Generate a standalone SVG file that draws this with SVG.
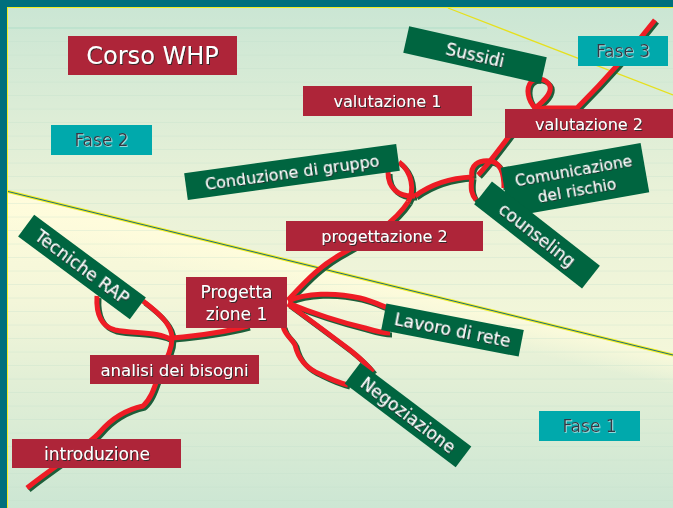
<svg xmlns="http://www.w3.org/2000/svg" width="673" height="508" viewBox="0 0 673 508">
<defs>
<linearGradient id="gTop" gradientUnits="userSpaceOnUse" x1="0" y1="8" x2="0" y2="355">
<stop offset="0" stop-color="#CBE6D4"/><stop offset="0.55" stop-color="#EAF2D8"/><stop offset="1" stop-color="#F4F7DA"/>
</linearGradient>
<linearGradient id="gBot" gradientUnits="userSpaceOnUse" x1="0" y1="190" x2="0" y2="508">
<stop offset="0" stop-color="#FFFCDC"/><stop offset="0.35" stop-color="#F3F6D9"/><stop offset="0.6" stop-color="#E2EFD6"/><stop offset="1" stop-color="#CCE6D3"/>
</linearGradient>
<linearGradient id="gBand" gradientUnits="userSpaceOnUse" x1="340" y1="273" x2="332" y2="308">
<stop offset="0" stop-color="#FFFCDC" stop-opacity="0.9"/><stop offset="1" stop-color="#FFFCDC" stop-opacity="0"/>
</linearGradient>
<filter id="sh" x="-10%" y="-10%" width="120%" height="130%">
<feDropShadow dx="1" dy="1" stdDeviation="0.3" flood-color="#2a2a2a" flood-opacity="0.9"/>
</filter>
<filter id="shL" x="-10%" y="-10%" width="120%" height="130%">
<feDropShadow dx="0.8" dy="0.8" stdDeviation="0.1" flood-color="#ffffff" flood-opacity="0.7"/>
</filter>
<style>
.red{fill:#AE2539}
.grn{fill:#006540}
.tea{fill:#00A9AC}
.t{font-family:"Comic Sans MS","DejaVu Sans",sans-serif;fill:#ffffff;text-anchor:middle;filter:url(#sh)}
.tf{font-family:"Comic Sans MS","DejaVu Sans",sans-serif;fill:#353844;text-anchor:middle;font-size:17px;filter:url(#shL)}
.c{fill:none;stroke-width:5;stroke-linejoin:round;stroke-linecap:butt}
.cr{stroke:#EE1C25}
.cs{stroke:#1D5E3A}
</style>
</defs>

<g id="background">
<rect x="0" y="0" width="673" height="508" fill="url(#gTop)"/>
<polygon points="6,191 673,355 673,508 0,508 0,191" fill="url(#gBot)"/>
<polygon points="6,191 673,355 673,400 6,230" fill="url(#gBand)"/>
<path d="M7 28H487" stroke="#A8DBC6" stroke-width="1" opacity="0.8"/>
<path d="M7 41.5H673M7 55H673M7 68.5H673M7 82H673M7 95.5H673M7 109H673M7 122.5H673M7 136H673M7 149.5H673M7 163H673M7 176.5H673M7 190H673M7 203.5H673M7 217H673M7 230.5H673M7 244H673M7 257.5H673M7 271H673M7 284.5H673M7 298H673M7 311.5H673M7 325H673M7 338.5H673M7 352H673M7 365.5H673M7 379H673M7 392.5H673M7 406H673M7 419.5H673M7 433H673M7 446.5H673M7 460H673M7 473.5H673M7 487H673M7 500.5H673" stroke="#C2E0CC" stroke-width="1" opacity="0.3"/>
<line x1="448" y1="8" x2="673" y2="95" stroke="#E6E01E" stroke-width="1.3"/>
<line x1="6" y1="191" x2="673" y2="355" stroke="#F2EE22" stroke-width="3"/>
<line x1="6" y1="191" x2="673" y2="355" stroke="#1E6C80" stroke-width="1"/>
<rect x="0" y="0" width="673" height="7" fill="#006F7D"/>
<rect x="0" y="0" width="7" height="508" fill="#006F7D"/>
<line x1="7" y1="7.5" x2="673" y2="7.5" stroke="#F2EE22" stroke-width="1"/>
<line x1="7.5" y1="7" x2="7.5" y2="508" stroke="#F2EE22" stroke-width="1"/>
</g>

<g id="connectors">
<g id="conn-shadow" class="c cs" transform="translate(2,2)">
<path id="p1" d="M27 488C60 462 88 446 100 432C112 418 125 410 143 406C152 398 155 385 160 372C166 360 172 350 172 338"/>
<path id="p2" d="M172 338C195 336 225 332 248 326"/>
<path id="p3" d="M172 338C172 325 160 314 143 301"/>
<path id="p4" d="M97 296C96 312 100 326 115 330C135 334 158 331 172 340"/>
<path id="p5" d="M288 300C305 282 320 265 345 252C370 238 395 222 408 202"/>
<path id="p6" d="M288 301C305 293 335 292 360 298C372 301 380 305 388 308"/>
<path id="p7" d="M288 303C310 312 340 322 365 328C375 331 383 333 390 333"/>
<path id="p8" d="M288 304C310 320 330 335 350 350C360 358 368 366 373 372"/>
<path id="p9" d="M283 326C285 336 292 338 295 345C298 358 305 368 320 374C330 379 340 383 348 385"/>
<path id="p10" d="M388 172C388 188 398 197 415 196"/>
<path id="p11" d="M399 162C412 172 415 190 408 202"/>
<path id="p12" d="M415 196C430 185 450 178 472 177"/>
<path id="p13" d="M472 177C470 190 472 195 476 200"/>
<path id="p14" d="M472 177C470 165 478 160 490 161C500 162 504 172 504 188"/>
<path id="p15" d="M478 175C485 168 495 155 510 135C518 120 528 110 545 108L577 108C600 85 630 52 655 20"/>
<path id="p16" d="M536 109C527 100 526 88 531 82C536 77 546 78 550 86C552 93 545 100 535 108"/>
</g>
<g id="conn-red" class="c cr">
<use href="#p1"/><use href="#p2"/><use href="#p3"/><use href="#p4"/><use href="#p5"/><use href="#p6"/><use href="#p7"/><use href="#p8"/>
<use href="#p9"/><use href="#p10"/><use href="#p11"/><use href="#p12"/><use href="#p13"/><use href="#p14"/><use href="#p15"/><use href="#p16"/>
</g>
</g>

<g id="corso-whp">
<rect class="red" x="68" y="36" width="169" height="39"/>
<text class="t" x="152.5" y="64" font-size="24">Corso WHP</text>
</g>
<g id="valutazione-1">
<rect class="red" x="303" y="86" width="169" height="30"/>
<text class="t" x="387.5" y="107" font-size="16">valutazione 1</text>
</g>
<g id="fase-2">
<rect class="tea" x="51" y="125" width="101" height="30"/>
<text class="tf" x="101.5" y="146">Fase 2</text>
</g>
<g id="fase-3">
<rect class="tea" x="578" y="36" width="90" height="30"/>
<text class="tf" x="623" y="57">Fase 3</text>
</g>
<g id="fase-1">
<rect class="tea" x="539" y="411" width="101" height="30"/>
<text class="tf" x="589.5" y="432">Fase 1</text>
</g>
<g id="sussidi" transform="translate(475,55) rotate(12.7)">
<rect class="grn" x="-70.5" y="-13.5" width="141" height="27"/>
<text class="t" x="0" y="6" font-size="17">Sussidi</text>
</g>
<g id="valutazione-2">
<rect class="red" x="505" y="109" width="170" height="29"/>
<text class="t" x="589" y="130" font-size="16">valutazione 2</text>
</g>
<g id="conduzione-di-gruppo" transform="translate(292,172) rotate(-7.8)">
<rect class="grn" x="-107" y="-13.5" width="214" height="27"/>
<text class="t" x="0" y="6" font-size="16">Conduzione di gruppo</text>
</g>
<g id="comunicazione-del-rischio" transform="translate(575,180) rotate(-10)">
<rect class="grn" x="-71" y="-25" width="142" height="50"/>
<text class="t" x="0" y="-4" font-size="15.5">Comunicazione</text>
<text class="t" x="0" y="16" font-size="15.5">del rischio</text>
</g>
<g id="counseling" transform="translate(537,235) rotate(38)">
<rect class="grn" x="-68.5" y="-14.5" width="137" height="29"/>
<text class="t" x="0" y="6" font-size="17">counseling</text>
</g>
<g id="progettazione-2">
<rect class="red" x="286" y="221" width="197" height="30"/>
<text class="t" x="384.5" y="242" font-size="16">progettazione 2</text>
</g>
<g id="tecniche-rap" transform="translate(82,267) rotate(36.5)">
<rect class="grn" x="-69.5" y="-13.5" width="139" height="27"/>
<text class="t" x="0" y="6" font-size="17">Tecniche RAP</text>
</g>
<g id="progettazione-1">
<rect class="red" x="186" y="277" width="101" height="51"/>
<text class="t" x="236.5" y="298" font-size="17">Progetta</text>
<text class="t" x="236.5" y="320" font-size="17">zione 1</text>
</g>
<g id="lavoro-di-rete" transform="translate(452.5,330) rotate(11)">
<rect class="grn" x="-70" y="-13.5" width="140" height="27"/>
<text class="t" x="0" y="6" font-size="17">Lavoro di rete</text>
</g>
<g id="negoziazione" transform="translate(408,415) rotate(37)">
<rect class="grn" x="-69.5" y="-13" width="139" height="26"/>
<text class="t" x="0" y="6" font-size="17">Negoziazione</text>
</g>
<g id="analisi-dei-bisogni">
<rect class="red" x="90" y="355" width="169" height="29"/>
<text class="t" x="174.5" y="376" font-size="16.5">analisi dei bisogni</text>
</g>
<g id="introduzione">
<rect class="red" x="12" y="439" width="169" height="29"/>
<text class="t" x="97" y="460" font-size="17">introduzione</text>
</g>
</svg>
